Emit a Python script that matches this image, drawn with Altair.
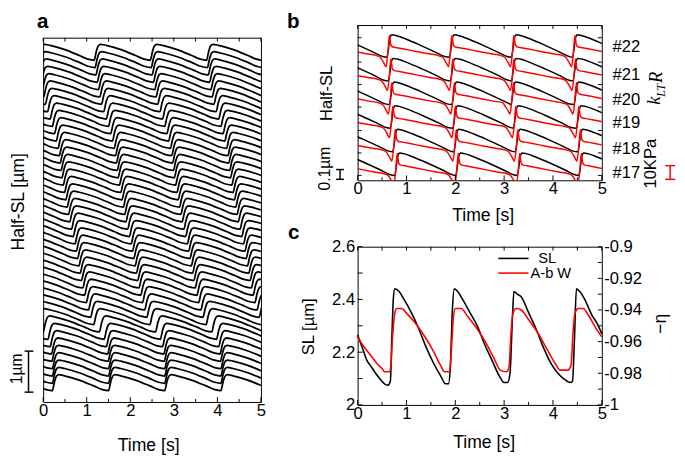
import altair as alt
import pandas as pd

FONT = "Liberation Sans"
SERIF = "Liberation Serif"
RED = "#ff0000"

# ---------------- data: panel a (stacked half-SL traces) ----------------
# onset time of the main upstroke of every trace (top -> bottom)
A_ONSETS = [1.17, 1.19, 1.21, 1.24, 1.27, 1.30, 1.34, 1.39, 1.45, 1.50,
            1.55, 1.59, 1.63, 1.66, 1.68, 1.70, 1.72, 1.75, 1.78, 1.81,
            1.84, 1.87, 1.90, 1.94, 1.98, 2.02, 2.05, 2.08, 2.11, 2.14,
            2.17, 2.20, 2.24, 2.28, 2.33, 2.38, 2.45, 2.58, 1.40, 1.45,
            1.48, 1.49, 1.50, 1.50, 1.50, 1.50]
A_PERIOD = 1.29          # beat period [s]
A_TOP_LOW = 8.33         # diastolic level of the top trace [um, offset]
A_SPACING = 0.179        # vertical offset between traces [um]
A_AMP = 0.39             # beat amplitude [um]
A_BEAT_DT = [0.00, 0.05, 0.10, 0.15, 0.28, 0.60, 0.95, 1.15]
A_BEAT_F = [0.00, 0.55, 0.92, 1.00, 0.93, 0.68, 0.30, 0.07]
A_BAR = [0.24, 1.24]     # 1 um scale bar
A_YMAX = 8.88

# ---------------- data: panel b (SL black, tension red) ----------------
B_ROWS = ["#22", "#21", "#20", "#19", "#18", "#17"]
B_ONSETS = [[-0.67, 0.60, 1.88, 3.15, 4.40, 5.67],
            [-0.64, 0.63, 1.90, 3.15, 4.41, 5.68],
            [-0.62, 0.65, 1.93, 3.14, 4.43, 5.70],
            [-0.60, 0.67, 1.95, 3.19, 4.48, 5.75],
            [-0.55, 0.72, 1.97, 3.23, 4.51, 5.78],
            [-0.51, 0.76, 2.01, 3.27, 4.53, 5.80]]
B_BLACK_LOW = [1.26, 1.018, 0.776, 0.534, 0.292, 0.05]   # um
B_RED_BASE = [90.0, 72.7, 55.4, 38.1, 20.9, 3.6]          # kPa
B_AMP = 0.23
B_BLACK_DT = [0.00, 0.03, 0.06, 0.10, 0.18, 0.40, 0.70, 1.00, 1.18]
B_BLACK_F = [0.00, 0.35, 0.85, 1.00, 0.97, 0.80, 0.52, 0.22, 0.03]
B_RED_DT = [-0.14, -0.06, -0.02, 0.02, 0.05, 0.08, 0.12, 0.20, 0.35, 0.60, 0.85, 1.05]
B_RED_V = [0.0, -4.5, -7.0, 4.0, 16.0, 9.0, 7.5, 7.0, 6.0, 4.2, 2.5, 1.2]
B_LABEL_V = [1.365, 1.075, 0.82, 0.59, 0.32, 0.07]
B_YTICKS = [0.05, 0.28, 0.51, 0.75, 0.98, 1.21, 1.46]
B_UM_MAX = 1.59
B_KPA_MAX = 113.57
B_BAR_UM = [0.01, 0.11]
B_BAR_KPA = [0.7, 10.7]

# ---------------- data: panel c ----------------
C_T_SL = [0.00, 0.10, 0.20, 0.26, 0.35, 0.45, 0.55, 0.62, 0.67, 0.70, 0.73, 0.76,
          0.85, 0.95, 1.10, 1.25, 1.40, 1.55, 1.70, 1.80, 1.86, 1.90, 1.94, 1.98,
          2.05, 2.15, 2.30, 2.45, 2.60, 2.75, 2.90, 3.00, 3.07, 3.12, 3.17, 3.20,
          3.27, 3.35, 3.50, 3.65, 3.80, 3.95, 4.10, 4.25, 4.35, 4.40, 4.44, 4.48,
          4.55, 4.65, 4.80, 4.90, 5.00]
C_SL = [2.265, 2.215, 2.165, 2.150, 2.125, 2.100, 2.080, 2.075, 2.090, 2.250, 2.400, 2.440,
        2.430, 2.400, 2.350, 2.290, 2.220, 2.160, 2.110, 2.080, 2.080, 2.150, 2.360, 2.440,
        2.430, 2.400, 2.350, 2.300, 2.230, 2.170, 2.110, 2.085, 2.085, 2.120, 2.330, 2.430,
        2.420, 2.410, 2.350, 2.290, 2.220, 2.160, 2.120, 2.095, 2.085, 2.090, 2.250, 2.440,
        2.430, 2.400, 2.340, 2.310, 2.270]
C_T_ABW = [0.00, 0.10, 0.25, 0.40, 0.50, 0.55, 0.65, 0.68, 0.72, 0.76, 0.80, 0.90,
           1.00, 1.20, 1.40, 1.55, 1.70, 1.78, 1.88, 1.92, 1.96, 2.00, 2.12, 2.25,
           2.45, 2.65, 2.80, 2.92, 3.05, 3.10, 3.14, 3.18, 3.25, 3.35, 3.50, 3.70,
           3.90, 4.05, 4.15, 4.30, 4.37, 4.41, 4.45, 4.52, 4.62, 4.72, 4.85, 5.00]
C_ABW = [-0.957, -0.962, -0.968, -0.974, -0.977, -0.979, -0.979, -0.975, -0.955, -0.942, -0.939, -0.939,
         -0.942, -0.949, -0.958, -0.966, -0.975, -0.979, -0.979, -0.965, -0.945, -0.939, -0.939, -0.944,
         -0.952, -0.962, -0.971, -0.978, -0.979, -0.976, -0.955, -0.942, -0.939, -0.940, -0.946, -0.955,
         -0.966, -0.974, -0.978, -0.978, -0.975, -0.955, -0.942, -0.939, -0.939, -0.943, -0.950, -0.957]
C_LEFT_LABELS = [2.0, 2.2, 2.4, 2.6]
C_LEFT_TICKS = [2.0, 2.1, 2.2, 2.3, 2.4, 2.5, 2.6]
C_RIGHT_LABELS = [-1.0, -0.98, -0.96, -0.94, -0.92, -0.9]
C_RIGHT_TICKS = [-1.0, -0.99, -0.98, -0.97, -0.96, -0.95, -0.94, -0.93, -0.92, -0.91, -0.9]

X_MAJOR = [0, 1, 2, 3, 4, 5]
X_MINOR = [0.5, 1.5, 2.5, 3.5, 4.5]
X_ALL = sorted(X_MAJOR + X_MINOR)

# ---------------- sizes ----------------
WA, HA = 223, 373
WB, HB = 250, 159
WC, HC = 250, 162
LABEL_SIZE = 17


def xenc():
    return alt.X("t:Q", title=None,
                 scale=alt.Scale(domain=[0, 5], nice=False, zero=False),
                 axis=alt.Axis(values=X_MAJOR, ticks=False, domain=False, grid=False,
                               labelFontSize=LABEL_SIZE, labelPadding=1, labelFlush=False,
                               labelFont=FONT, labelColor="black"))


def one():
    return pd.DataFrame({"_": [0]})


def text(s, x, y, size=16, angle=0, bold=False, color="black", font=FONT,
         italic=False, align="center"):
    kw = dict(text=s, fontSize=size, color=color, font=font, align=align, baseline="middle",
              fontWeight="bold" if bold else "normal",
              fontStyle="italic" if italic else "normal")
    if angle:
        kw["angle"] = angle
    return alt.Chart(one()).mark_text(**kw).encode(x=alt.value(x), y=alt.value(y))


def xticks(H, inner_len_major, inner_len_minor, top_len):
    df_maj = pd.DataFrame({"t": X_MAJOR})
    df_min = pd.DataFrame({"t": X_MINOR})
    df_all = pd.DataFrame({"t": X_ALL})
    r = dict(color="black", strokeWidth=1)
    return [
        alt.Chart(df_maj).mark_rule(**r).encode(x=xenc(), y=alt.value(H), y2=alt.value(H - inner_len_major)),
        alt.Chart(df_min).mark_rule(**r).encode(x=xenc(), y=alt.value(H), y2=alt.value(H - inner_len_minor)),
        alt.Chart(df_all).mark_rule(**r).encode(x=xenc(), y=alt.value(0), y2=alt.value(top_len)),
    ]


# ---------------- panel a ----------------
rows = []
for i, m in enumerate(A_ONSETS):
    base = A_TOP_LOW - i * A_SPACING
    for k in range(-3, 4):
        o = m + k * A_PERIOD
        for dt, f in zip(A_BEAT_DT, A_BEAT_F):
            t = o + dt
            if -0.8 <= t <= 5.8:
                rows.append({"trace": i, "t": t, "v": base + f * A_AMP})
df_a = pd.DataFrame(rows).sort_values(["trace", "t"])

ya_scale = alt.Scale(domain=[0, A_YMAX], nice=False, zero=False)
lines_a = alt.Chart(df_a).mark_line(color="black", strokeWidth=1.8, clip=True,
                                    interpolate="monotone").encode(
    x=xenc(), y=alt.Y("v:Q", scale=ya_scale, axis=None), detail="trace:N")

bar_a = pd.DataFrame({"lo": [A_BAR[0]], "hi": [A_BAR[1]]})
bar_a_ends = pd.DataFrame({"v": A_BAR})
scalebar_a = [
    alt.Chart(bar_a).mark_rule(color="black", strokeWidth=1.5).encode(
        x=alt.value(-15), y=alt.Y("lo:Q", scale=ya_scale, axis=None), y2="hi:Q"),
    alt.Chart(bar_a_ends).mark_rule(color="black", strokeWidth=1.5).encode(
        x=alt.value(-19), x2=alt.value(-10), y=alt.Y("v:Q", scale=ya_scale, axis=None)),
]

panel_a = alt.layer(
    lines_a, *xticks(HA, 5, 3, 4), *scalebar_a,
    text("Time [s]", 108, 418, size=18),
    text("Half-SL [µm]", -25, 168, size=18, angle=270),
    text("1µm", -27, 339, size=16, angle=270),
    text("a", -0.5, -15.5, size=21, bold=True),
).properties(width=WA, height=HA)

spacer = alt.Chart(one()).mark_point(opacity=0).encode(
    x=alt.value(0), y=alt.value(0)).properties(
    width=WA, height=1, view=alt.ViewBackground(stroke="transparent"))

# ---------------- panel b ----------------
bk, rd = [], []
for r, name in enumerate(B_ROWS):
    for o in B_ONSETS[r]:
        for dt, f in zip(B_BLACK_DT, B_BLACK_F):
            bk.append({"row": name, "t": o + dt, "v": B_BLACK_LOW[r] + f * B_AMP})
        for dt, v in zip(B_RED_DT, B_RED_V):
            rd.append({"row": name, "t": o + dt, "kpa": B_RED_BASE[r] + v})
df_bk = pd.DataFrame(bk).sort_values(["row", "t"])
df_rd = pd.DataFrame(rd).sort_values(["row", "t"])

yb_um = alt.Scale(domain=[0, B_UM_MAX], nice=False, zero=False)
yb_kpa = alt.Scale(domain=[0, B_KPA_MAX], nice=False, zero=False)

black_b = alt.Chart(df_bk).mark_line(color="black", strokeWidth=1.5, clip=True,
                                     interpolate="monotone").encode(
    x=xenc(), y=alt.Y("v:Q", scale=yb_um, axis=None), detail="row:N")
red_b = alt.Chart(df_rd).mark_line(color=RED, strokeWidth=1.5, clip=True,
                                   interpolate="monotone").encode(
    x=xenc(), y=alt.Y("kpa:Q", scale=yb_kpa, axis=None), detail="row:N")

df_blab = pd.DataFrame({"lab": B_ROWS, "v": B_LABEL_V})
labels_b = alt.Chart(df_blab).mark_text(fontSize=17, font=FONT, align="left",
                                        baseline="middle", color="black").encode(
    x=alt.value(261), y=alt.Y("v:Q", scale=yb_um, axis=None), text="lab:N")

df_bt = pd.DataFrame({"v": B_YTICKS})
yticks_b = [
    alt.Chart(df_bt).mark_rule(color="black").encode(
        x=alt.value(0), x2=alt.value(4), y=alt.Y("v:Q", scale=yb_um, axis=None)),
    alt.Chart(df_bt).mark_rule(color="black").encode(
        x=alt.value(WB - 4), x2=alt.value(WB), y=alt.Y("v:Q", scale=yb_um, axis=None)),
]

bar_b = pd.DataFrame({"lo": [B_BAR_UM[0]], "hi": [B_BAR_UM[1]]})
bar_b_ends = pd.DataFrame({"v": B_BAR_UM})
bar_r = pd.DataFrame({"lo": [B_BAR_KPA[0]], "hi": [B_BAR_KPA[1]]})
bar_r_ends = pd.DataFrame({"kpa": B_BAR_KPA})
scalebars_b = [
    alt.Chart(bar_b).mark_rule(color="black", strokeWidth=1.5).encode(
        x=alt.value(-18), y=alt.Y("lo:Q", scale=yb_um, axis=None), y2="hi:Q"),
    alt.Chart(bar_b_ends).mark_rule(color="black", strokeWidth=1.5).encode(
        x=alt.value(-22), x2=alt.value(-14), y=alt.Y("v:Q", scale=yb_um, axis=None)),
    alt.Chart(bar_r).mark_rule(color=RED, strokeWidth=1.5).encode(
        x=alt.value(320), y=alt.Y("lo:Q", scale=yb_kpa, axis=None), y2="hi:Q"),
    alt.Chart(bar_r_ends).mark_rule(color=RED, strokeWidth=1.5).encode(
        x=alt.value(315), x2=alt.value(325), y=alt.Y("kpa:Q", scale=yb_kpa, axis=None)),
]

panel_b = alt.layer(
    black_b, red_b, labels_b, *yticks_b, *scalebars_b, *xticks(HB, 5, 3, 4),
    text("Time [s]", 128.5, 195.5, size=18),
    text("Half-SL", -31, 70, size=17, angle=270),
    text("0.1µm", -33, 147, size=16, angle=270),
    text("10KPa", 300, 142, size=17, angle=270),
    text("k", 304, 77.5, size=19, angle=270, font=SERIF, italic=True),
    text("LT", 310.5, 67, size=12, angle=270, font=SERIF, italic=True),
    text("R", 305.5, 53.5, size=19, angle=270, font=SERIF, italic=True),
    text("b", -66, -2.5, size=21, bold=True),
).resolve_scale(y="independent").properties(width=WB, height=HB)

# ---------------- panel c ----------------
df_sl = pd.DataFrame({"t": C_T_SL, "sl": C_SL})
df_abw = pd.DataFrame({"t": C_T_ABW, "abw": C_ABW})
yc_l = alt.Scale(domain=[2.0, 2.6], nice=False, zero=False)
yc_r = alt.Scale(domain=[-1.0, -0.9], nice=False, zero=False)

sl_line = alt.Chart(df_sl).mark_line(color="black", strokeWidth=1.6, interpolate="monotone").encode(
    x=xenc(),
    y=alt.Y("sl:Q", scale=yc_l, title=None,
            axis=alt.Axis(values=C_LEFT_LABELS, format="~g", ticks=False, domain=False,
                          grid=False, labelFontSize=LABEL_SIZE, labelPadding=3, labelFont=FONT,
                          labelColor="black")))
abw_line = alt.Chart(df_abw).mark_line(color=RED, strokeWidth=1.6, interpolate="monotone").encode(
    x=xenc(),
    y=alt.Y("abw:Q", scale=yc_r, title=None,
            axis=alt.Axis(orient="right", values=C_RIGHT_LABELS, ticks=False, domain=False,
                          grid=False, labelFontSize=LABEL_SIZE, labelPadding=2, labelFont=FONT,
                          labelColor="black",
                          labelExpr="replace(format(datum.value, '~g'), '\u2212', '-')")))

df_lt = pd.DataFrame({"sl": C_LEFT_TICKS})
df_rt = pd.DataFrame({"abw": C_RIGHT_TICKS})
yticks_c = [
    alt.Chart(df_lt).mark_rule(color="black").encode(
        x=alt.value(0), x2=alt.value(5), y=alt.Y("sl:Q", scale=yc_l, axis=None)),
    alt.Chart(df_rt).mark_rule(color="black").encode(
        x=alt.value(WC - 4), x2=alt.value(WC), y=alt.Y("abw:Q", scale=yc_r, axis=None)),
]

legend_c = [
    alt.Chart(one()).mark_rule(color="black", strokeWidth=1.6).encode(
        x=alt.value(144), x2=alt.value(175), y=alt.value(12)),
    alt.Chart(one()).mark_rule(color=RED, strokeWidth=1.6).encode(
        x=alt.value(144), x2=alt.value(175), y=alt.value(27)),
    text("SL", 185, 11.5, size=15, align="left"),
    text("A-b W", 177, 27.5, size=15, align="left"),
]

panel_c = alt.layer(
    sl_line, abw_line, *yticks_c, *xticks(HC, 5, 3, 4), *legend_c,
    text("Time [s]", 129.5, 201.5, size=18),
    text("SL [µm]", -49.5, 82, size=17, angle=270),
    text("\u2212\u03b7", 311, 79, size=18, angle=270),
    text("c", -65.5, -13.5, size=21, bold=True),
).resolve_scale(y="independent").properties(width=WC, height=HC)

# ---------------- layout ----------------
left_col = alt.vconcat(spacer, panel_a, spacing=12, bounds="flush")
right_col = alt.vconcat(panel_b, panel_c, spacing=68, bounds="flush")
chart = alt.hconcat(left_col, right_col, spacing=20, bounds="full").properties(
    padding={"left": 0, "top": -2, "right": 0, "bottom": 0}
).configure_view(stroke="black", strokeWidth=1).configure_axis(labelFont=FONT)

chart.save("out.html", embed_options={"renderer": "svg", "actions": False})
